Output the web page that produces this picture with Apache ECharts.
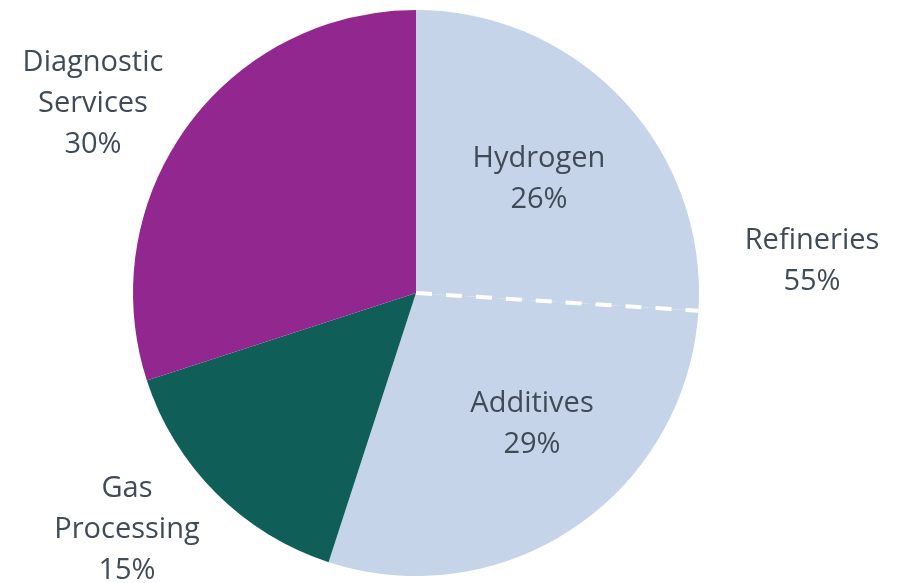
<!DOCTYPE html>
<html><head><meta charset="utf-8">
<script src="https://cdn.jsdelivr.net/npm/echarts@6/dist/echarts.min.js"></script>
<style>html,body{margin:0;padding:0;background:#fff}#c{width:899px;height:583px}</style>
</head><body><div id="c"></div>
<script>
const categories = ['Hydrogen', 'Additives', 'Gas Processing', 'Diagnostic Services'];
const values = [26, 29, 15, 30];
const groupName = 'Refineries';
const groupValue = 55;

const colors = ['#C5D4E9', '#C5D4E9', '#0F5F58', '#92278F'];
const labelPos = [[539, 179], [532, 424], [127, 530], [93, 104]];
const cx = 416, cy = 293, R = 283;
const font = '"Open Sans", Lato, sans-serif';
const textColor = '#404B57';

const chart = echarts.init(document.getElementById('c'), null, {renderer: 'canvas'});
const total = values.reduce((a, b) => a + b, 0);
const ang = (90 - 360 * values[0] / total) * Math.PI / 180;

chart.setOption({
  animation: false,
  series: [{
    type: 'pie',
    center: [cx, cy],
    radius: [0, R],
    startAngle: 90,
    clockwise: true,
    data: categories.map((c, i) => ({name: c, value: values[i], itemStyle: {color: colors[i]}})),
    itemStyle: {borderWidth: 0},
    label: {
      show: true,
      position: 'inside',
      formatter: p => p.name.replace(' ', '\n') + '\n' + Math.round(p.percent) + '%',
      fontFamily: font, fontSize: 29, lineHeight: 41, color: textColor, align: 'center'
    },
    labelLine: {show: false},
    labelLayout: p => ({x: labelPos[p.dataIndex][0], y: labelPos[p.dataIndex][1], align: 'center', verticalAlign: 'middle'}),
    emphasis: {disabled: true}
  }],
  graphic: [
    {type: 'line', shape: {x1: cx, y1: cy, x2: cx + R * Math.cos(ang), y2: cy - R * Math.sin(ang)},
     style: {stroke: '#fff', lineWidth: 4, lineDash: [16, 14]}, z: 100},
    {type: 'text', x: 812, y: 261, style: {text: groupName + '\n' + groupValue + '%', font: '29px ' + font,
     lineHeight: 41, fill: textColor, align: 'center', verticalAlign: 'middle'}}
  ]
});
</script></body></html>
